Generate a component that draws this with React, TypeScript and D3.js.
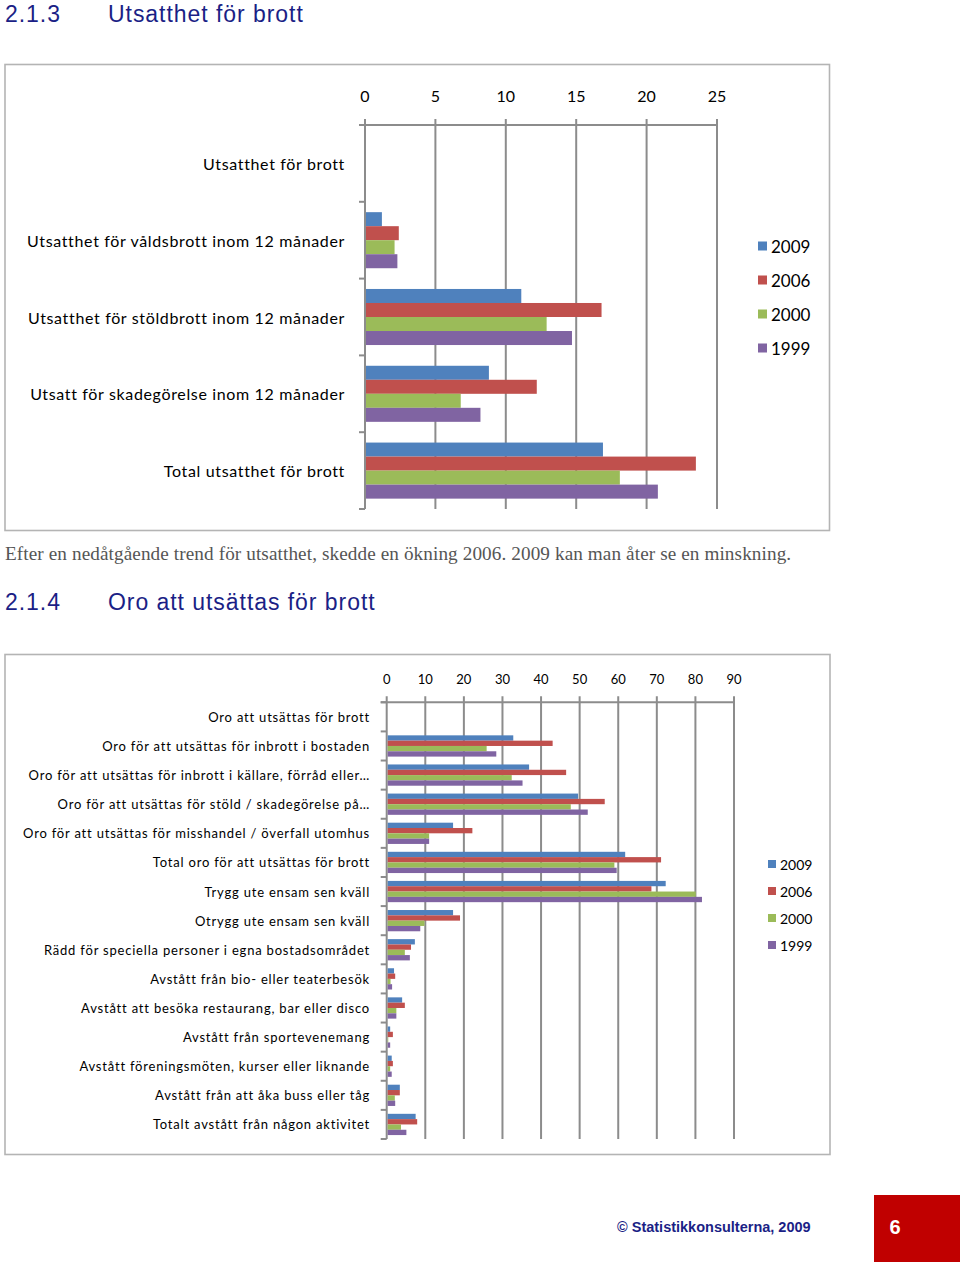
import React from "react";
import * as d3 from "d3";

const years = ["2009", "2006", "2000", "1999"];
const colors = ["#4f81bd", "#c0504d", "#9bbb59", "#8064a2"];

// Chart 1: Utsatthet för brott
const cat1 = [
  "Utsatthet för brott",
  "Utsatthet för våldsbrott inom 12 månader",
  "Utsatthet för stöldbrott inom 12 månader",
  "Utsatt för skadegörelse inom 12 månader",
  "Total utsatthet för brott",
];
const c1_2009 = [null, 1.2, 11.1, 8.8, 16.9];
const c1_2006 = [null, 2.4, 16.8, 12.2, 23.5];
const c1_2000 = [null, 2.1, 12.9, 6.8, 18.1];
const c1_1999 = [null, 2.3, 14.7, 8.2, 20.8];
const ticks1 = [0, 5, 10, 15, 20, 25];

// Chart 2: Oro att utsättas för brott
const cat2 = [
  "Oro att utsättas för brott",
  "Oro för att utsättas för inbrott i bostaden",
  "Oro för att utsättas för inbrott i källare, förråd eller…",
  "Oro för att utsättas för stöld / skadegörelse på…",
  "Oro för att utsättas för misshandel / överfall utomhus",
  "Total oro för att utsättas för brott",
  "Trygg ute ensam sen kväll",
  "Otrygg ute ensam sen kväll",
  "Rädd för speciella personer i egna bostadsområdet",
  "Avstått från bio- eller teaterbesök",
  "Avstått att besöka restaurang, bar eller disco",
  "Avstått från sportevenemang",
  "Avstått föreningsmöten, kurser eller liknande",
  "Avstått från att åka buss eller tåg",
  "Totalt avstått från någon aktivitet",
];
const c2_2009 = [null, 32.8, 36.9, 49.6, 17.2, 61.8, 72.3, 17.2, 7.3, 1.9, 4.0, 0.9, 1.3, 3.4, 7.5];
const c2_2006 = [null, 43.0, 46.5, 56.5, 22.2, 71.1, 68.6, 19.0, 6.3, 2.2, 4.7, 1.6, 1.6, 3.4, 7.9];
const c2_2000 = [null, 25.9, 32.4, 47.7, 11.0, 59.0, 80.1, 9.8, 4.7, 1.0, 2.5, 0.4, 0.9, 2.1, 3.7];
const c2_1999 = [null, 28.4, 35.2, 52.1, 11.0, 59.6, 81.7, 8.7, 6.0, 1.4, 2.5, 0.9, 1.3, 2.2, 5.1];
const ticks2 = [0, 10, 20, 30, 40, 50, 60, 70, 80, 90];

const NAVY = "#1b1f86";
const GRID = "#8c8c8c";
const FONT = "Lato, 'Open Sans', sans-serif";
const SANS = "'Liberation Sans', Arial, sans-serif";

type ChartProps = {
  cats: string[];
  series: (number | null)[][];
  ticks: number[];
  x0: number;
  x1: number;
  yTop: number;
  yBot: number;
  tickLabelY: number;
  tickFont: number;
  labelX: number;
  labelFont: number;
  labelSpacing: number;
  legendX: number;
  legendY: number[];
  legendFont: number;
  sq: number;
  box: [number, number, number, number];
};

function BarChart(p: ChartProps) {
  const x = d3.scaleLinear().domain([0, p.ticks[p.ticks.length - 1]]).range([p.x0, p.x1]);
  const y = d3.scaleBand<string>().domain(p.cats).range([p.yTop, p.yBot]).padding(0);
  const bw = y.bandwidth();
  const inner = d3
    .scaleBand<string>()
    .domain(years)
    .range([bw * 0.135, bw * 0.865])
    .padding(0);
  const tickLen = 6;
  const boundaries = p.cats.map((c) => y(c) as number).concat([p.yBot]);
  const [bx0, by0, bx1, by1] = p.box;
  return (
    <g>
      <rect x={bx0} y={by0} width={bx1 - bx0} height={by1 - by0} fill="#fff" stroke="#b4b4b4" strokeWidth={1.6} />
      {p.ticks.map((t) => (
        <line key={"g" + t} x1={x(t)} x2={x(t)} y1={p.yTop - tickLen} y2={p.yBot} stroke={GRID} strokeWidth={2} />
      ))}
      <line x1={p.x0 - tickLen} x2={p.x1} y1={p.yTop} y2={p.yTop} stroke={GRID} strokeWidth={2} />
      {boundaries.map((b, i) => (
        <line key={"b" + i} x1={p.x0 - tickLen} x2={p.x0} y1={b} y2={b} stroke={GRID} strokeWidth={2} />
      ))}
      {p.ticks.map((t) => (
        <text key={"t" + t} x={x(t)} y={p.tickLabelY} textAnchor="middle" dominantBaseline="central" fontSize={p.tickFont} fontFamily={FONT} fill="#000">
          {t}
        </text>
      ))}
      {p.cats.map((c, i) => (
        <g key={"c" + i}>
          <text x={p.labelX} y={(y(c) as number) + bw / 2} textAnchor="end" dominantBaseline="central" fontSize={p.labelFont} fontFamily={FONT} letterSpacing={p.labelSpacing} fill="#000">
            {c}
          </text>
          {p.series.map((s, k) =>
            s[i] == null ? null : (
              <rect
                key={k}
                x={x(0) + 1}
                y={(y(c) as number) + (inner(years[k]) as number)}
                width={Math.max(0, x(s[i] as number) - x(0) - 1)}
                height={inner.bandwidth()}
                fill={colors[k]}
              />
            )
          )}
        </g>
      ))}
      {years.map((yr, k) => (
        <g key={"l" + yr}>
          <rect x={p.legendX} y={p.legendY[k] - p.sq / 2} width={p.sq} height={p.sq} fill={colors[k]} />
          <text x={p.legendX + p.sq + 4} y={p.legendY[k]} dominantBaseline="central" fontSize={p.legendFont} fontFamily={FONT} fill="#000">
            {yr}
          </text>
        </g>
      ))}
    </g>
  );
}

export default function App() {
  return (
    <svg width={960} height={1262} style={{ position: "absolute", left: 0, top: 0, background: "#fff" }}>
      <rect x={0} y={0} width={960} height={1262} fill="#fff" />
      <text x={5} y={21.5} fontSize={23} letterSpacing={0.95} fontFamily={SANS} fill={NAVY}>2.1.3</text>
      <text x={108} y={21.5} fontSize={23} letterSpacing={0.95} fontFamily={SANS} fill={NAVY}>Utsatthet för brott</text>

      <BarChart
        cats={cat1}
        series={[c1_2009, c1_2006, c1_2000, c1_1999]}
        ticks={ticks1}
        x0={365}
        x1={717}
        yTop={125}
        yBot={509}
        tickLabelY={95}
        tickFont={16}
        labelX={345}
        labelFont={16}
        labelSpacing={0.65}
        legendX={758}
        legendY={[246, 280, 314, 348]}
        legendFont={17}
        sq={9}
        box={[5, 64.5, 829.5, 530.5]}
      />

      <text x={5} y={560} fontSize={19.2} letterSpacing={0.1} fontFamily="'Liberation Serif', 'DejaVu Serif', serif" fill="#555">
        Efter en nedåtgående trend för utsatthet, skedde en ökning 2006. 2009 kan man åter se en minskning.
      </text>

      <text x={5} y={610} fontSize={23} letterSpacing={0.95} fontFamily={SANS} fill={NAVY}>2.1.4</text>
      <text x={108} y={610} fontSize={23} letterSpacing={0.95} fontFamily={SANS} fill={NAVY}>Oro att utsättas för brott</text>

      <BarChart
        cats={cat2}
        series={[c2_2009, c2_2006, c2_2000, c2_1999]}
        ticks={ticks2}
        x0={386.7}
        x1={734}
        yTop={702.3}
        yBot={1139}
        tickLabelY={679}
        tickFont={13}
        labelX={370}
        labelFont={13}
        labelSpacing={0.8}
        legendX={768}
        legendY={[864, 891, 918, 945]}
        legendFont={14}
        sq={8}
        box={[5, 654.5, 830, 1154.5]}
      />

      <text x={617} y={1232} fontSize={14.5} fontWeight="bold" fontFamily={SANS} fill={NAVY}>
        © Statistikkonsulterna, 2009
      </text>
      <rect x={874} y={1195} width={86} height={67} fill="#c00000" />
      <text x={895} y={1234} textAnchor="middle" fontSize={20} fontWeight="bold" fontFamily={SANS} fill="#fff">6</text>
    </svg>
  );
}
